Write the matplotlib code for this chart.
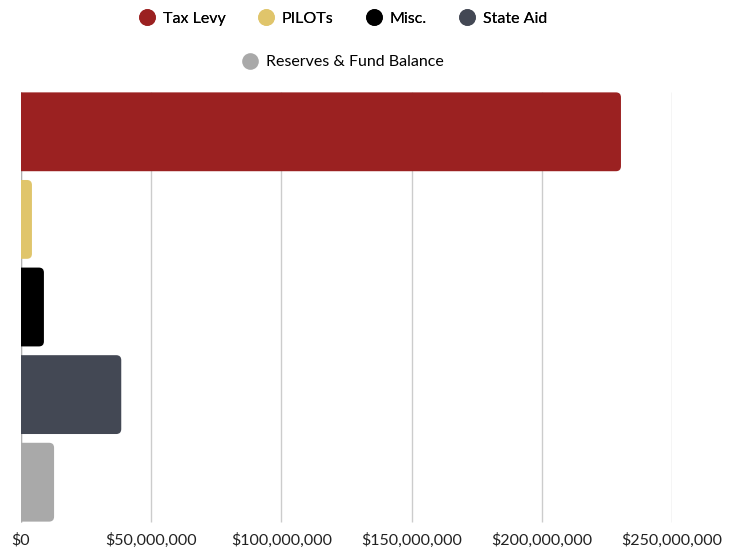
import matplotlib.pyplot as plt
from matplotlib.patches import FancyBboxPatch
from matplotlib.lines import Line2D
from matplotlib.ticker import FuncFormatter

plt.rcParams['font.family'] = ['Lato', 'DejaVu Sans']

categories = ["Tax Levy", "PILOTs", "Misc.", "State Aid", "Reserves & Fund Balance"]
values = [230400000, 4200000, 8800000, 38500000, 12700000]
colors = ["#9b2121", "#e0c56b", "#000000", "#434854", "#a9a9a9"]
ticks = [0, 50000000, 100000000, 150000000, 200000000, 250000000]

fig = plt.figure(figsize=(7.39, 5.5), dpi=100)
ax = fig.add_axes([21 / 739, 24 / 550, 651 / 739, 438 / 550])

ax.set_xlim(0, 250000000)
ax.set_ylim(len(categories) - 0.5, -0.5)

# plain bars give the geometry, rounded patches are drawn over them
bars = ax.barh(range(len(categories)), values, height=0.9, color="none")

xpp = 250000000 / 651
ypp = len(categories) / 438
r = 5 * xpp
for b, c in zip(bars, colors):
    x0, y0, w, h = b.get_x(), b.get_y(), b.get_width(), b.get_height()
    p = FancyBboxPatch((x0 - 2 * r, y0), w + 2 * r, h,
                       boxstyle=f"round,pad=0,rounding_size={r}",
                       mutation_aspect=ypp / xpp,
                       facecolor=c, edgecolor="none", zorder=3)
    ax.add_patch(p)

ax.set_xticks(ticks)
ax.xaxis.set_major_formatter(FuncFormatter(lambda v, _: "${:,.0f}".format(v)))
ax.set_yticks([])
ax.vlines(ticks, -0.45, 4.45, color="#cccccc", linewidth=1, zorder=0)
ax.vlines([0], -0.45, 4.45, color="#b0b0b0", linewidth=1, zorder=1)
for s in ax.spines.values():
    s.set_visible(False)
ax.tick_params(axis="x", length=0, pad=5, labelsize=11.5, labelcolor="#222222")

handles = [Line2D([], [], linestyle="none", marker="o", markersize=12,
                  markerfacecolor=c, markeredgecolor="none") for c in colors]
cx = 343 / 739
leg1 = fig.legend(handles[:4], categories[:4], loc="center", ncol=4,
                  bbox_to_anchor=(cx, 1 - 19 / 550), frameon=False,
                  fontsize=11.5, handlelength=1.0, handletextpad=0.5,
                  columnspacing=2.0)
fig.add_artist(leg1)
fig.legend(handles[4:], categories[4:], loc="center",
           bbox_to_anchor=(cx, 1 - 62 / 550), frameon=False,
           fontsize=11.5, handlelength=1.0, handletextpad=0.5)

fig.savefig("out.png", dpi=100)
